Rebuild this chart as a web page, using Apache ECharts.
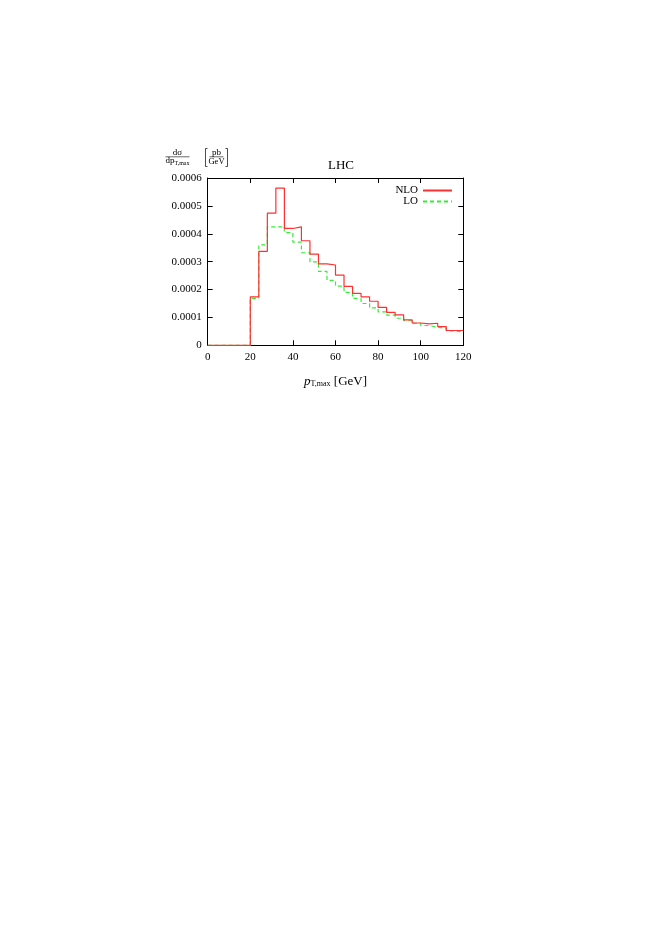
<!DOCTYPE html>
<html>
<head>
<meta charset="utf-8">
<script src="https://cdn.jsdelivr.net/npm/echarts@6/dist/echarts.min.js"></script>
<style>
  html, body { margin: 0; padding: 0; background: #fff; }
  #chart { width: 662px; height: 936px; }
</style>
</head>
<body>
<div id="chart"></div>
<script>
// bin edges (GeV), 4 GeV bins
const binEdges = [0, 4, 8, 12, 16, 20, 24, 28, 32, 36, 40, 44, 48, 52, 56, 60,
  64, 68, 72, 76, 80, 84, 88, 92, 96, 100, 104, 108, 112, 116, 120]

// dsigma/dpT,max [pb/GeV], one value per bin
const nloValues = [0, 0, 0, 0, 0, 0.000174, 0.000337, 0.000474, 0.000564, 0.000419,
  0.000425, 0.000375, 0.000327, 0.000292, 0.000288, 0.000252, 0.000211, 0.000186,
  0.000174, 0.000158, 0.000136, 0.000118, 0.000109, 0.000091, 0.000080, 0.000077,
  0.000079, 0.000067, 0.000053, 0.000053]
const loValues = [0, 0, 0, 0, 0, 0.000168, 0.000360, 0.000425, 0.000425, 0.000404,
  0.000370, 0.000332, 0.000299, 0.000265, 0.000233, 0.000212, 0.000190, 0.000168,
  0.000150, 0.000134, 0.000120, 0.000108, 0.000097, 0.000088, 0.000079, 0.000071,
  0.000064, 0.000061, 0.000052, 0.000048]

const xTicks = [0, 20, 40, 60, 80, 100, 120]
const yTicks = [0, 0.0001, 0.0002, 0.0003, 0.0004, 0.0005, 0.0006]

// histogram steps: each bin value held from its lower edge to the next one
function steps(vals) {
  return binEdges.map((e, i) => [e, vals[Math.min(i, vals.length - 1)]])
}

const serif = '"Liberation Serif", "DejaVu Serif", serif'
const border = { show: true, onZero: false, lineStyle: { color: '#000', width: 1 } }
const inTick = { show: true, inside: true, length: 5, lineStyle: { color: '#000', width: 1 } }

const chart = echarts.init(document.getElementById('chart'), null, { renderer: 'canvas' })

chart.setOption({
  backgroundColor: '#fff',
  animation: false,
  title: {
    text: 'LHC',
    left: 336,
    top: 154,
    textAlign: 'center',
    textStyle: { fontFamily: serif, fontSize: 13, fontWeight: 'normal', color: '#000' },
  },
  legend: {
    data: ['NLO', 'LO'],
    orient: 'vertical',
    align: 'right',
    right: 204,
    top: 180,
    itemWidth: 29,
    itemHeight: 8,
    itemGap: 0,
    itemStyle: { opacity: 0 },
    textStyle: { fontFamily: serif, fontSize: 11, lineHeight: 10, color: '#000', padding: [0, 0, 0, 0] },
  },
  grid: { left: 207.7, right: 198.7, top: 178, bottom: 590.7, containLabel: false },
  xAxis: [
    {
      type: 'value',
      min: xTicks[0],
      max: xTicks[xTicks.length - 1],
      interval: 20,
      position: 'bottom',
      axisLine: border,
      axisTick: inTick,
      splitLine: { show: false },
      axisLabel: { margin: 6, fontFamily: serif, fontSize: 11, color: '#000' },
      name: '{i|p}{s|T,max} [GeV]',
      nameLocation: 'middle',
      nameGap: 29,
      nameTextStyle: {
        fontFamily: serif, fontSize: 13, color: '#000',
        rich: {
          i: { fontFamily: serif, fontStyle: 'italic', fontSize: 13, color: '#000' },
          s: { fontFamily: serif, fontSize: 8, color: '#000', verticalAlign: 'bottom', padding: [6, 0, 0, 0] },
        },
      },
    },
    {
      type: 'value',
      min: xTicks[0],
      max: xTicks[xTicks.length - 1],
      interval: 20,
      position: 'top',
      axisLine: border,
      axisTick: inTick,
      splitLine: { show: false },
      axisLabel: { show: false },
    },
  ],
  yAxis: [
    {
      type: 'value',
      min: yTicks[0],
      max: yTicks[yTicks.length - 1],
      interval: 0.0001,
      position: 'left',
      axisLine: border,
      axisTick: inTick,
      splitLine: { show: false },
      axisLabel: {
        margin: 6,
        fontFamily: serif,
        fontSize: 11,
        color: '#000',
        formatter: (v) => (v === 0 ? '0' : v.toFixed(4)),
      },
    },
    {
      type: 'value',
      min: yTicks[0],
      max: yTicks[yTicks.length - 1],
      interval: 0.0001,
      position: 'right',
      axisLine: border,
      axisTick: inTick,
      splitLine: { show: false },
      axisLabel: { show: false },
    },
  ],
  series: [
    {
      name: 'LO',
      type: 'line',
      step: 'end',
      symbol: 'none',
      data: steps(loValues),
      lineStyle: { color: '#33ee33', width: 1.2, type: [4, 3] },
      itemStyle: { color: '#33ee33' },
      z: 2,
    },
    {
      name: 'NLO',
      type: 'line',
      step: 'end',
      symbol: 'none',
      data: steps(nloValues),
      lineStyle: { color: '#ff3030', width: 1.2 },
      itemStyle: { color: '#ff3030' },
      z: 3,
    },
  ],
  graphic: [
    // y-axis label: dσ/dp_T,max [pb/GeV]
    {
      type: 'text', x: 177.5, y: 153,
      style: { text: 'dσ', fontFamily: serif, fontSize: 9, fill: '#000', textAlign: 'center', textVerticalAlign: 'middle' },
    },
    { type: 'line', shape: { x1: 165.5, y1: 156.8, x2: 189.5, y2: 156.8 }, style: { stroke: '#000', lineWidth: 0.6 } },
    {
      type: 'text', x: 177.5, y: 161,
      style: {
        text: '{a|dp}{b|T,max}',
        textAlign: 'center', textVerticalAlign: 'middle',
        rich: {
          a: { fontFamily: serif, fontSize: 9, fill: '#000' },
          b: { fontFamily: serif, fontSize: 6, fill: '#000', padding: [4, 0, 0, 0] },
        },
      },
    },
    { type: 'polyline', shape: { points: [[207.5, 148.5], [205.5, 148.5], [205.5, 166.5], [207.5, 166.5]] }, style: { stroke: '#000', lineWidth: 0.7, fill: null } },
    {
      type: 'text', x: 216.5, y: 153,
      style: { text: 'pb', fontFamily: serif, fontSize: 9, fill: '#000', textAlign: 'center', textVerticalAlign: 'middle' },
    },
    { type: 'line', shape: { x1: 209.5, y1: 156.8, x2: 223.5, y2: 156.8 }, style: { stroke: '#000', lineWidth: 0.6 } },
    {
      type: 'text', x: 216.5, y: 161.5,
      style: { text: 'GeV', fontFamily: serif, fontSize: 8.5, fill: '#000', textAlign: 'center', textVerticalAlign: 'middle' },
    },
    { type: 'polyline', shape: { points: [[225.5, 148.5], [227.5, 148.5], [227.5, 166.5], [225.5, 166.5]] }, style: { stroke: '#000', lineWidth: 0.7, fill: null } },
  ],
})
</script>
</body>
</html>
